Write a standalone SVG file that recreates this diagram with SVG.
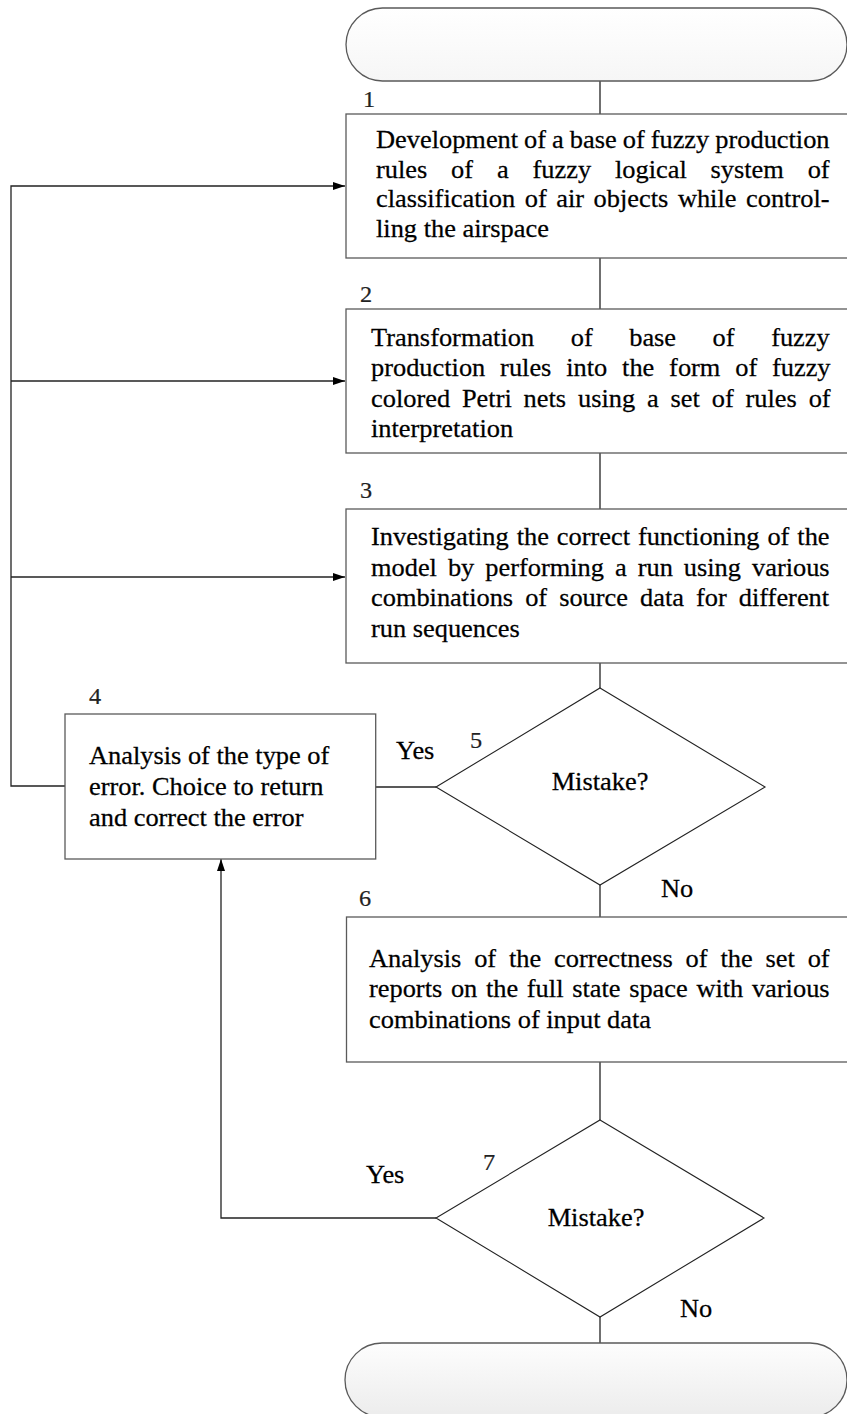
<svg xmlns="http://www.w3.org/2000/svg" width="847" height="1414" viewBox="0 0 847 1414">
<style>
.t{font-family:"Liberation Serif","Times New Roman",serif;font-size:25px;fill:#000;stroke:#000;stroke-width:0.25}
.n{font-family:"Liberation Serif","Times New Roman",serif;font-size:23px;fill:#222;stroke:#222;stroke-width:0.2}
.box{fill:#fff;stroke:#5a5a5a;stroke-width:1.3}
.term{stroke:#5a5a5a;stroke-width:1.3}
.dia{fill:#fff;stroke:#222;stroke-width:1.1}
.c{fill:none;stroke:#222;stroke-width:1.3}
</style>
<defs>
<marker id="ah" markerUnits="userSpaceOnUse" markerWidth="13" markerHeight="9" refX="12" refY="4" orient="auto">
<path d="M0,0 L12,4 L0,8 z" fill="#000"/>
</marker>
<linearGradient id="tg" x1="0" y1="0" x2="0" y2="1">
<stop offset="0" stop-color="#ffffff"/>
<stop offset="1" stop-color="#f6f6f6"/>
</linearGradient>
<linearGradient id="bg" x1="0" y1="0" x2="0" y2="1">
<stop offset="0" stop-color="#fdfdfd"/>
<stop offset="1" stop-color="#ececec"/>
</linearGradient>
</defs>

<g id="connectors">
<line class="c" x1="600" y1="81" x2="600" y2="114"/>
<line class="c" x1="600" y1="258" x2="600" y2="309"/>
<line class="c" x1="600" y1="453" x2="600" y2="509"/>
<line class="c" x1="600" y1="663" x2="600" y2="688"/>
<line class="c" x1="600" y1="885" x2="600" y2="917"/>
<line class="c" x1="600" y1="1062" x2="600" y2="1120"/>
<line class="c" x1="600" y1="1317" x2="600" y2="1343"/>
<path class="c" d="M436,787 L375,787"/>
<path class="c" d="M65,786 L11,786 L11,186 L345,186" marker-end="url(#ah)"/>
<path class="c" d="M11,381 L345,381" marker-end="url(#ah)"/>
<path class="c" d="M11,577 L345,577" marker-end="url(#ah)"/>
<path class="c" d="M436,1218 L221,1218 L221,859" marker-end="url(#ah)"/>
</g>

<g id="start">
<rect class="term" x="346" y="8" width="501" height="73" rx="36.5" fill="url(#tg)"/>
</g>

<g id="node1">
<rect class="box" x="346" y="114" width="503" height="144"/>
<text class="n" transform="translate(363,107) scale(1.056,1)">1</text>
<text class="t" transform="translate(376,148) scale(1.056,1)" style="word-spacing:-0.55px">Development of a base of fuzzy production</text>
<text class="t" transform="translate(376,177.7) scale(1.056,1)" style="word-spacing:16.34px">rules of a fuzzy logical system of</text>
<text class="t" transform="translate(376,207.4) scale(1.056,1)" style="word-spacing:2.8px">classification of air objects while control-</text>
<text class="t" transform="translate(376,237.1) scale(1.056,1)">ling the airspace</text>
</g>

<g id="node2">
<rect class="box" x="346" y="309" width="503" height="144"/>
<text class="n" transform="translate(360,302) scale(1.056,1)">2</text>
<text class="t" transform="translate(371,345.5) scale(1.056,1)" style="word-spacing:28.36px">Transformation of base of fuzzy</text>
<text class="t" transform="translate(371,376) scale(1.056,1)" style="word-spacing:7.79px">production rules into the form of fuzzy</text>
<text class="t" transform="translate(371,406.5) scale(1.056,1)" style="word-spacing:4.98px">colored Petri nets using a set of rules of</text>
<text class="t" transform="translate(371,437) scale(1.056,1)">interpretation</text>
</g>

<g id="node3">
<rect class="box" x="346" y="509" width="503" height="154"/>
<text class="n" transform="translate(360,498) scale(1.056,1)">3</text>
<text class="t" transform="translate(371,545) scale(1.056,1)" style="word-spacing:1.25px">Investigating the correct functioning of the</text>
<text class="t" transform="translate(371,575.5) scale(1.056,1)" style="word-spacing:4.17px">model by performing a run using various</text>
<text class="t" transform="translate(371,606) scale(1.056,1)" style="word-spacing:5.15px">combinations of source data for different</text>
<text class="t" transform="translate(371,636.5) scale(1.056,1)">run sequences</text>
</g>

<g id="node4">
<rect class="box" x="65" y="714" width="310.7" height="145"/>
<text class="n" transform="translate(89,704) scale(1.056,1)">4</text>
<text class="t" transform="translate(89,763.5) scale(1.056,1)">Analysis of the type of</text>
<text class="t" transform="translate(89,794.5) scale(1.056,1)">error. Choice to return</text>
<text class="t" transform="translate(89,825.5) scale(1.056,1)">and correct the error</text>
</g>

<g id="node5">
<polygon class="dia" points="600,688 765,787 600,885 436,787"/>
<text class="n" transform="translate(470,748) scale(1.056,1)">5</text>
<text class="t" text-anchor="middle" transform="translate(600,790) scale(1.056,1)">Mistake?</text>
<text class="t" transform="translate(396,759) scale(1.056,1)">Yes</text>
<text class="t" transform="translate(661,897) scale(1.056,1)">No</text>
</g>

<g id="node6">
<rect class="box" x="346.5" y="917" width="503" height="145"/>
<text class="n" transform="translate(359,906) scale(1.056,1)">6</text>
<text class="t" transform="translate(369,966.5) scale(1.056,1)" style="word-spacing:5.93px">Analysis of the correctness of the set of</text>
<text class="t" transform="translate(369,997) scale(1.056,1)" style="word-spacing:1.96px">reports on the full state space with various</text>
<text class="t" transform="translate(369,1027.5) scale(1.056,1)">combinations of input data</text>
</g>

<g id="node7">
<polygon class="dia" points="600,1120 764,1218 600,1317 436,1218"/>
<text class="n" transform="translate(483,1170) scale(1.056,1)">7</text>
<text class="t" text-anchor="middle" transform="translate(596,1226) scale(1.056,1)">Mistake?</text>
<text class="t" transform="translate(366,1183) scale(1.056,1)">Yes</text>
<text class="t" transform="translate(680,1317) scale(1.056,1)">No</text>
</g>

<g id="end">
<rect class="term" x="345" y="1343" width="502" height="74" rx="37" fill="url(#bg)"/>
</g>
</svg>
